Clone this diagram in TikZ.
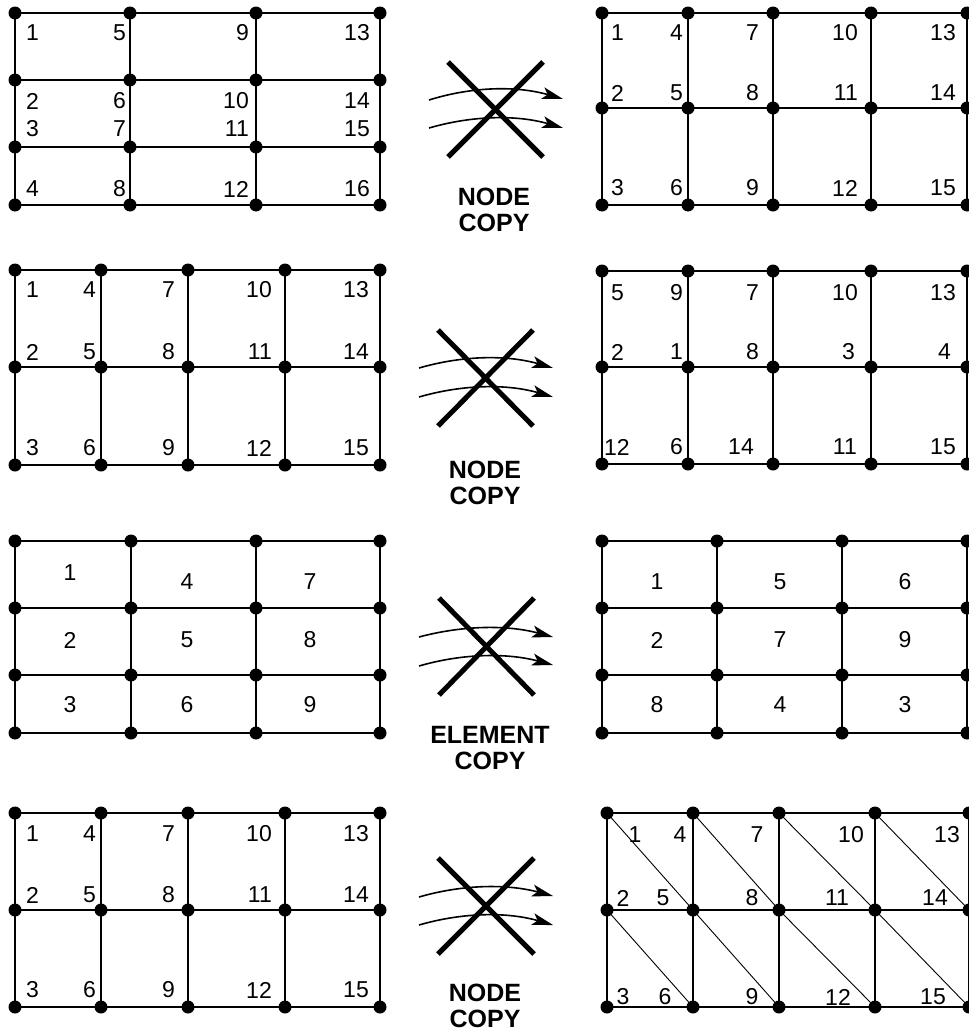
\documentclass[tikz,border=0pt]{standalone}
\usepackage{fontspec}
\setmainfont{Liberation Sans}
\usetikzlibrary{arrows.meta}
\tikzset{
  meshline/.style={line width=2pt},
  diagline/.style={line width=0.9pt},
  crossline/.style={line width=5pt,line cap=butt},
  copyarrow/.style={line width=1.6pt,-{Stealth[length=21pt,width=12pt,inset=5pt]}},
  lab/.style={inner sep=0pt,font=\fontsize{23}{23}\selectfont},
  caption/.style={inner sep=0pt,align=center,font=\fontsize{25}{26.5}\selectfont\bfseries}
}
\newcommand\meshpanel[5]{%
  \foreach \x [count=\i] in {#2} {
    \foreach \y [count=\j] in {#3} {
      \coordinate (#1-\i-\j) at (\x,\y);
    }
  }
  \foreach \i in {1,...,#4} \draw[meshline] (#1-\i-1) -- (#1-\i-#5);
  \foreach \j in {1,...,#5} \draw[meshline] (#1-1-\j) -- (#1-#4-\j);
  \foreach \i in {1,...,#4} \foreach \j in {1,...,#5} \fill (#1-\i-\j) circle (6.5pt);
}
\begin{document}
\begin{tikzpicture}[x=1pt,y=-1pt]
\clip (0,0) rectangle (969,1036);
\fill[white] (0,0) rectangle (969,1036);

% ---------- Row 1 ----------
\meshpanel{A}{15,130,256,380}{13,80,147,205}{4}{4}
\foreach \t/\x/\y in {1/26/33,2/26/101,3/26/129,4/26/189}
  \node[lab,anchor=west] (A-n\t) at (\x,\y) {\t};
\foreach \t/\x/\y in {5/126/33,6/126/101,7/126/129,8/126/189,
  9/249/33,10/249/101,11/249/129,12/249/189,
  13/370/33,14/370/101,15/370/129,16/370/189}
  \node[lab,anchor=east] (A-n\t) at (\x,\y) {\t};

\meshpanel{B}{602,688,773,871,967}{13,108,205}{5}{3}
\foreach \t/\x/\y in {1/611/33,2/611/93,3/611/188}
  \node[lab,anchor=west] (B-n\t) at (\x,\y) {\t};
\foreach \t/\x/\y in {4/683/33,5/683/93,6/683/188,
  7/759/33,8/759/93,9/759/188,
  10/858/33,11/858/93,12/858/188,
  13/956/33,14/956/93,15/956/188}
  \node[lab,anchor=east] (B-n\t) at (\x,\y) {\t};

\coordinate (S1a) at (448,62); \coordinate (S1b) at (543,157);
\coordinate (S1c) at (543,62); \coordinate (S1d) at (448,157);
\draw[crossline] (S1a) -- (S1b);
\draw[crossline] (S1c) -- (S1d);
\coordinate (S1p) at (429,100); \coordinate (S1q) at (563,99);
\coordinate (S1r) at (429,128); \coordinate (S1s) at (563,128);
\draw[copyarrow] (S1p) .. controls (474,86) and (518,86) .. (S1q);
\draw[copyarrow] (S1r) .. controls (474,115) and (518,115) .. (S1s);
\node[caption] (C1) at (494,210) {NODE\\COPY};

% ---------- Row 2 ----------
\meshpanel{C}{15,101,188,285,380}{270,367,465}{5}{3}
\foreach \t/\x/\y in {1/26/290,2/26/352,3/26/448}
  \node[lab,anchor=west] (C-n\t) at (\x,\y) {\t};
\foreach \t/\x/\y in {4/96/290,5/96/352,6/96/448,
  7/175/290,8/175/352,9/175/448,
  10/272/290,11/272/352,12/272/448,
  13/369/290,14/369/352,15/369/448}
  \node[lab,anchor=east] (C-n\t) at (\x,\y) {\t};

\meshpanel{D}{602,688,773,871,967}{271,367,464}{5}{3}
\foreach \t/\x/\y in {5/611/293,2/611/352,12/604/447}
  \node[lab,anchor=west] (D-n\t) at (\x,\y) {\t};
\foreach \t/\x/\y in {9/683/293,7/759/293,10/858/293,13/956/293,
  1/683/352,8/759/352,3/855/352,4/951/352,
  6/683/447,14/754/447,11/857/447,15/956/447}
  \node[lab,anchor=east] (D-n\t) at (\x,\y) {\t};

\coordinate (S2a) at (438,330); \coordinate (S2b) at (533,426);
\coordinate (S2c) at (533,330); \coordinate (S2d) at (438,426);
\draw[crossline] (S2a) -- (S2b);
\draw[crossline] (S2c) -- (S2d);
\coordinate (S2p) at (419,368); \coordinate (S2q) at (553,368);
\coordinate (S2r) at (419,397); \coordinate (S2s) at (553,397);
\draw[copyarrow] (S2p) .. controls (464,355) and (508,355) .. (S2q);
\draw[copyarrow] (S2r) .. controls (464,384) and (508,384) .. (S2s);
\node[caption] (C2) at (485,483) {NODE\\COPY};

% ---------- Row 3 ----------
\meshpanel{E}{15,131,256,380}{541,608,675,733}{4}{4}
\foreach \t/\x/\y in {1/70/573,4/187/582,7/310/582,
  2/70/640,5/187/640,8/310/640,
  3/70/705,6/187/705,9/310/705}
  \node[lab] (E-n\t) at (\x,\y) {\t};

\meshpanel{F}{602,717,842,967}{541,608,675,733}{4}{4}
\foreach \t/\x/\y in {1/657/582,5/780/582,6/905/582,
  2/657/640,7/780/640,9/905/640,
  8/657/705,4/780/705,3/905/705}
  \node[lab] (F-n\t) at (\x,\y) {\t};

\coordinate (S3a) at (439,598); \coordinate (S3b) at (534,695);
\coordinate (S3c) at (534,598); \coordinate (S3d) at (439,695);
\draw[crossline] (S3a) -- (S3b);
\draw[crossline] (S3c) -- (S3d);
\coordinate (S3p) at (419,637); \coordinate (S3q) at (553,637);
\coordinate (S3r) at (419,666); \coordinate (S3s) at (553,665);
\draw[copyarrow] (S3p) .. controls (464,625) and (508,625) .. (S3q);
\draw[copyarrow] (S3r) .. controls (464,653) and (508,653) .. (S3s);
\node[caption] (C3) at (490,748) {ELEMENT\\COPY};

% ---------- Row 4 ----------
\meshpanel{G}{15,101,188,285,380}{813,910,1007}{5}{3}
\foreach \t/\x/\y in {1/26/834,2/26/895,3/26/990}
  \node[lab,anchor=west] (G-n\t) at (\x,\y) {\t};
\foreach \t/\x/\y in {4/96/834,5/96/895,6/96/990,
  7/175/834,8/175/895,9/175/990,
  10/272/834,11/272/895,12/272/990,
  13/369/834,14/369/895,15/369/990}
  \node[lab,anchor=east] (G-n\t) at (\x,\y) {\t};

\meshpanel{H}{607,693,779,875,969}{813,910,1007}{5}{3}
\foreach \a/\b in {1/2,2/3,3/4,4/5}
  \foreach \c/\d in {1/2,2/3}
    \draw[diagline] (H-\a-\c) -- (H-\b-\d);
\foreach \t/\x/\y in {1/635/835,4/680/835,7/757/835,10/851/835,13/947/835,
  2/623/898,5/663/898,8/752/898,11/837/898,14/935/898,
  3/623/997,6/665/997,9/752/997,12/838/997,15/933/997}
  \node[lab] (H-n\t) at (\x,\y) {\t};

\coordinate (S4a) at (438,858); \coordinate (S4b) at (534,954);
\coordinate (S4c) at (534,858); \coordinate (S4d) at (438,954);
\draw[crossline] (S4a) -- (S4b);
\draw[crossline] (S4c) -- (S4d);
\coordinate (S4p) at (419,897); \coordinate (S4q) at (553,896);
\coordinate (S4r) at (419,925); \coordinate (S4s) at (553,925);
\draw[copyarrow] (S4p) .. controls (464,884) and (508,884) .. (S4q);
\draw[copyarrow] (S4r) .. controls (464,912) and (508,912) .. (S4s);
\node[caption] (C4) at (485,1006) {NODE\\COPY};
\end{tikzpicture}
\end{document}
